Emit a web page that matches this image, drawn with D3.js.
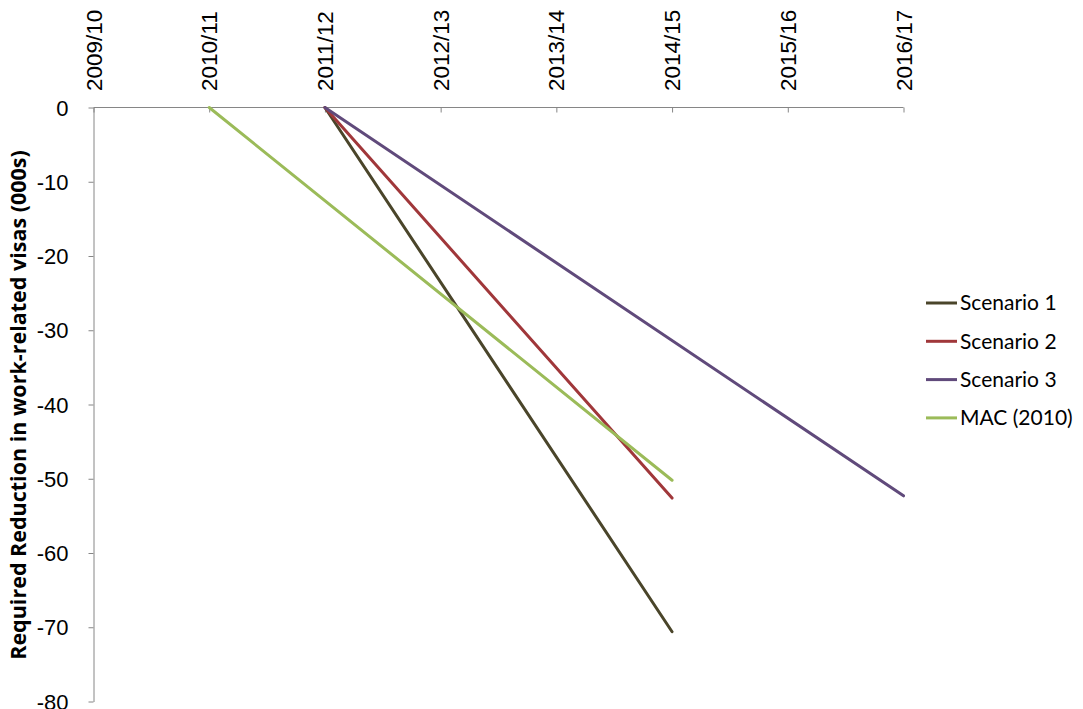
<!DOCTYPE html>
<html>
<head>
<meta charset="utf-8">
<script src="https://cdn.jsdelivr.net/npm/d3@7"></script>
<style>
  html, body { margin: 0; padding: 0; background: #fff; }
  svg { display: block; }
</style>
</head>
<body>
<svg id="chart" width="1083" height="709"></svg>
<script>
// Financial years along the top axis
const years = ["2009/10", "2010/11", "2011/12", "2012/13", "2013/14", "2014/15", "2015/16", "2016/17"];
const yTicks = [0, -10, -20, -30, -40, -50, -60, -70, -80];

// Each series: start and end points (thousands of visas)
const scenario1 = [{ year: "2011/12", value: 0 }, { year: "2014/15", value: -70.6 }];
const scenario2 = [{ year: "2011/12", value: 0 }, { year: "2014/15", value: -52.6 }];
const scenario3 = [{ year: "2011/12", value: 0 }, { year: "2016/17", value: -52.3 }];
const mac2010   = [{ year: "2010/11", value: 0 }, { year: "2014/15", value: -50.2 }];

const seriesNames  = ["Scenario 1", "Scenario 2", "Scenario 3", "MAC (2010)"];
const seriesData   = [scenario1, scenario2, scenario3, mac2010];
const seriesColors = ["#4A452A", "#A0373A", "#604A7B", "#9BBB59"];

const svg = d3.select("#chart");
const axisColor = "#868686";
const tickFont = "Arial, 'Liberation Sans', sans-serif";

const x = d3.scalePoint().domain(years).range([93.5, 903.5]);
const y = d3.scaleLinear().domain([-80, 0]).range([701.5, 107.5]);

// Top category axis
const xAxis = svg.append("g").attr("transform", "translate(0,107.5)")
  .call(d3.axisBottom(x).tickSize(5).tickFormat(""));
xAxis.select(".domain").attr("stroke", axisColor).attr("d", `M${x(years[0])},0H${x(years[years.length-1])}`);
xAxis.selectAll(".tick line").attr("stroke", axisColor);

svg.append("g").selectAll("text").data(years).join("text")
  .attr("transform", d => `translate(${x(d) + 8},91) rotate(-90)`)
  .attr("text-anchor", "start")
  .attr("font-family", tickFont)
  .attr("font-size", 22.5)
  .attr("fill", "#000")
  .text(d => d);

// Left value axis
const yAxis = svg.append("g").attr("transform", "translate(93.5,0)")
  .call(d3.axisLeft(y).tickValues(yTicks).tickSize(5).tickSizeOuter(0).tickPadding(20).tickFormat(d => String(d)));
yAxis.select(".domain").attr("stroke", axisColor);
yAxis.selectAll(".tick line").attr("stroke", axisColor);
yAxis.selectAll(".tick text")
  .attr("font-family", tickFont)
  .attr("font-size", 22)
  .attr("fill", "#000")
  .attr("dy", "0.35em");

// Axis title, fitted to the plot height
const title = svg.append("text")
  .attr("transform", `translate(26,405) rotate(-90)`)
  .attr("text-anchor", "middle")
  .attr("font-family", "'Open Sans', Lato, sans-serif")
  .attr("font-weight", "bold")
  .attr("font-size", 18)
  .attr("fill", "#000")
  .text("Required Reduction in work-related visas (000s)");
const tl = title.node().getComputedTextLength();
title.attr("font-size", 18 * 510 / tl);

// Series lines
const line = d3.line().x(d => x(d.year)).y(d => y(d.value));
svg.append("g").selectAll("path").data(seriesData).join("path")
  .attr("d", line)
  .attr("fill", "none")
  .attr("stroke", (d, i) => seriesColors[i])
  .attr("stroke-width", 3)
  .attr("stroke-linecap", "round");

// Legend
const legend = svg.append("g").selectAll("g").data(seriesNames).join("g")
  .attr("transform", (d, i) => `translate(926,${303 + i * 38.3})`);
legend.append("line")
  .attr("x1", 0).attr("x2", 31).attr("y1", 0).attr("y2", 0)
  .attr("stroke", (d, i) => seriesColors[i]).attr("stroke-width", 3);
legend.append("text")
  .attr("x", 34).attr("y", 0).attr("dy", "0.35em")
  .attr("font-family", "Lato, 'Open Sans', sans-serif")
  .attr("font-size", 21)
  .attr("fill", "#000")
  .text(d => d);
</script>
</body>
</html>
